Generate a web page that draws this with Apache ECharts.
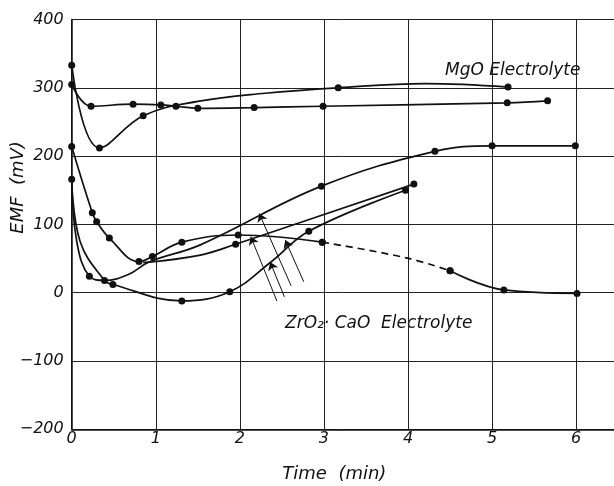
<!DOCTYPE html>
<html><head><meta charset="utf-8">
<script src="https://cdn.jsdelivr.net/npm/echarts@6/dist/echarts.min.js"></script>
<style>html,body{margin:0;padding:0;background:#fff}#c{width:614px;height:486px}</style>
</head><body><div id="c"></div>
<script>
// [time (min), EMF (mV), measured dot? 1/0]
const mgoDip  = [[0,333,1],[0.33,212,1],[0.85,259,1],[1.5,280,0],[2.3,292,0],[3.17,300,1],[4.2,306,0],[5.19,301,1]];
const mgoFlat = [[0,305,1],[0.23,273,1],[0.73,276,1],[1.06,275,1],[1.24,273,1],[1.5,270,1],[2.17,271,1],[2.99,273,1],[5.18,278,1],[5.66,281,1]];
const zrC = [[0,214,1],[0.245,117,1],[0.297,104,1],[0.448,80,1],[0.80,45.5,1],[0.96,53,1],[1.31,74,1],[1.98,84.5,1],[2.98,74,1],[3.98,51,0],[4.5,32,1],[5.14,4,1],[6.01,-1,1]];
const zrF = [[0,166,1],[0.06,75,0],[0.21,24,1],[0.39,18,1],[0.68,27,0],[0.92,45,0],[1.53,70,0],[2.97,156,1],[4.32,207,1],[5.0,215,1],[5.99,215,1]];
const zrE = [[0,166,0],[0.1,75,0],[0.39,18,0],[0.49,12,1],[1.31,-12,1],[1.88,1.5,1],[2.37,45,0],[2.82,90,1],[3.97,150,1]];
const zrG = [[0.85,44,0],[1.53,55,0],[1.95,71,1],[4.07,159,1]];
const arrowFrom = [[2.61,10],[2.44,-12],[2.53,-6],[2.76,16]];
const arrowTo   = [[2.23,116],[2.13,82],[2.36,45],[2.54,77]];
const xTickValues = [0,1,2,3,4,5,6];
const yTickValues = [-200,-100,0,100,200,300,400];
const mgoLabel = 'MgO Electrolyte';
const zrLabel = 'ZrO\u2082\u00b7 CaO  Electrolyte';
const xName = 'Time  (min)';
const yName = 'EMF  (mV)';

const INK = '#111';
const FONT = 'DejaVu Sans';
function pts(arr){
  return arr.map(p => p[2] ? {value:[p[0],p[1]]} : {value:[p[0],p[1]], symbol:'none'});
}
function curve(arr, dashed){
  return {
    type:'line', data: pts(arr), smooth:0.4,
    symbol:'circle', symbolSize:7, showSymbol:true,
    lineStyle:{color:INK, width:1.7, type: dashed ? [7,5] : 'solid'},
    itemStyle:{color:INK}, z:3
  };
}
const series = [
  curve(mgoDip), curve(mgoFlat),
  curve(zrC.slice(0,9)), curve(zrC.slice(8,11), true), curve(zrC.slice(10)),
  curve(zrF), curve(zrE), curve(zrG),
  {
    type:'lines', coordinateSystem:'cartesian2d',
    data: arrowFrom.map((a,i)=>({coords:[a, arrowTo[i]]})),
    symbol:['none','arrow'], symbolSize:[0,8],
    lineStyle:{color:INK, width:1, opacity:1, curveness:0}, z:4
  }
];
const chart = echarts.init(document.getElementById('c'), null, {renderer:'canvas'});
chart.setOption({
  animation:false,
  backgroundColor:'#fff',
  grid:{left:71.7, right:0, top:19.5, bottom:56.7, containLabel:false, outerBoundsMode:'none'},
  xAxis:{
    type:'value', min:0, max:6.45, interval:1,
    name:xName, nameLocation:'middle', nameGap:36, nameMoveOverlap:false,
    nameTextStyle:{fontFamily:FONT, fontStyle:'italic', fontSize:18, color:INK, padding:[0,17,0,0]},
    axisLine:{onZero:false, lineStyle:{color:INK, width:1.5}},
    axisTick:{show:false},
    axisLabel:{fontFamily:FONT, fontStyle:'italic', fontSize:16, color:INK, margin:2, showMaxLabel:false,
      formatter: v => xTickValues.includes(v) ? String(v) : ''},
    splitLine:{show:true, showMaxLine:false, lineStyle:{color:'#222', width:1}}
  },
  yAxis:{
    type:'value', min:-200, max:400, interval:100,
    name:yName, nameLocation:'middle', nameRotate:90, nameGap:44, nameMoveOverlap:false,
    nameTextStyle:{fontFamily:FONT, fontStyle:'italic', fontSize:18, color:INK, padding:[0,0,0,74]},
    axisLine:{show:true, lineStyle:{color:INK, width:1.5}},
    axisTick:{show:false},
    axisLabel:{fontFamily:FONT, fontStyle:'italic', fontSize:16, color:INK, margin:8,
      formatter: v => yTickValues.includes(v) ? (v<0 ? '\u2212'+(-v) : String(v)) : ''},
    splitLine:{show:true, lineStyle:{color:'#222', width:1}}
  },
  graphic:[
    {type:'text', left:445, top:62, style:{text:mgoLabel, fontFamily:FONT, fontStyle:'italic', fontSize:17, fill:INK}},
    {type:'text', left:285, top:315, style:{text:zrLabel, fontFamily:FONT, fontStyle:'italic', fontSize:17, fill:INK, backgroundColor:'#fff'}}
  ],
  series: series
});
</script></body></html>
